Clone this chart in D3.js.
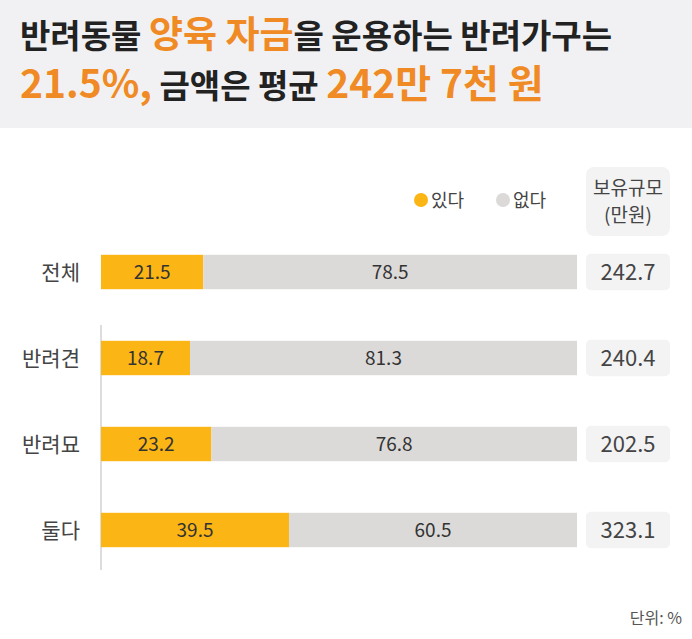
<!DOCTYPE html>
<html><head><meta charset="utf-8">
<script src="https://cdn.jsdelivr.net/npm/d3@7"></script>
<style>body{margin:0;background:#fff;font-family:"Noto Sans CJK KR","Noto Sans",sans-serif}</style>
</head><body><div id="chart"></div>
<script>
const categories = ['전체', '반려견', '반려묘', '둘다']
const yesValues = [21.5, 18.7, 23.2, 39.5]
const noValues = [78.5, 81.3, 76.8, 60.5]
const holdings = ['242.7', '240.4', '202.5', '323.1']

const W = 692, H = 639
const svg = d3.select('#chart').append('svg').attr('width', W).attr('height', H)
const font = '"Noto Sans CJK KR", sans-serif'

// header
svg.append('rect').attr('width', W).attr('height', 128).attr('fill', '#f1f1f3')
const t1 = svg.append('text').attr('x', 20).attr('y', 48).attr('font-size', 33).attr('font-weight', 700).attr('fill', '#222').attr('font-family', font)
t1.append('tspan').text('반려동물 ')
t1.append('tspan').attr('fill', '#f08a24').attr('font-size', 37).text('양육 자금')
t1.append('tspan').text('을 운용하는 반려가구는')
const t2 = svg.append('text').attr('x', 20).attr('y', 98).attr('font-size', 33).attr('font-weight', 700).attr('fill', '#222').attr('font-family', font)
t2.append('tspan').attr('fill', '#f08a24').attr('font-size', 39).text('21.5%,')
t2.append('tspan').text(' 금액은 평균 ')
t2.append('tspan').attr('fill', '#f08a24').attr('font-size', 39).text('242만 7천 원')

const x = d3.scaleLinear().domain([0, 100]).range([101, 577])
const y = d3.scaleBand().domain(categories).range([229, 573]).paddingInner(0.6).paddingOuter(0.3)

// axis line
svg.append('line').attr('x1', 101).attr('x2', 101).attr('y1', 325).attr('y2', 570).attr('stroke', '#bbb')

const rows = svg.selectAll('.row').data(categories).join('g').attr('class', 'row')
rows.append('text').attr('x', 80).attr('y', d => y(d) + y.bandwidth() / 2 + 8)
  .attr('text-anchor', 'end').attr('font-size', 21).attr('fill', '#444').text(d => d)
rows.append('rect').attr('x', x(0)).attr('y', d => y(d))
  .attr('width', (d, i) => x(yesValues[i]) - x(0)).attr('height', y.bandwidth()).attr('fill', '#fbb514')
rows.append('rect').attr('x', (d, i) => x(yesValues[i])).attr('y', d => y(d))
  .attr('width', (d, i) => x(100) - x(yesValues[i])).attr('height', y.bandwidth()).attr('fill', '#dcdad8')
rows.append('text').attr('x', (d, i) => x(yesValues[i] / 2)).attr('y', d => y(d) + y.bandwidth() / 2 + 7)
  .attr('text-anchor', 'middle').attr('font-size', 19).attr('fill', '#333').text((d, i) => yesValues[i])
rows.append('text').attr('x', (d, i) => x(yesValues[i] + noValues[i] / 2)).attr('y', d => y(d) + y.bandwidth() / 2 + 7)
  .attr('text-anchor', 'middle').attr('font-size', 19).attr('fill', '#333').text((d, i) => noValues[i])
rows.append('rect').attr('x', 586).attr('y', d => y(d) - 1).attr('width', 84).attr('height', y.bandwidth() + 2)
  .attr('rx', 5).attr('fill', '#f3f3f4')
rows.append('text').attr('x', 628).attr('y', d => y(d) + y.bandwidth() / 2 + 8)
  .attr('text-anchor', 'middle').attr('font-size', 22).attr('fill', '#444').text((d, i) => holdings[i])

// holdings header
svg.append('rect').attr('x', 586).attr('y', 167).attr('width', 84).attr('height', 69).attr('rx', 8).attr('fill', '#f3f3f4')
svg.append('text').attr('x', 628).attr('y', 195).attr('text-anchor', 'middle').attr('font-size', 19).attr('fill', '#444').text('보유규모')
svg.append('text').attr('x', 628).attr('y', 222).attr('text-anchor', 'middle').attr('font-size', 19).attr('fill', '#444').text('(만원)')

// legend
const legend = [['있다', '#fbb514', 421], ['없다', '#dcdad8', 503]]
legend.forEach(([label, c, lx]) => {
  svg.append('circle').attr('cx', lx).attr('cy', 200).attr('r', 7).attr('fill', c)
  svg.append('text').attr('x', lx + 10).attr('y', 207).attr('font-size', 18).attr('fill', '#444').text(label)
})

svg.append('text').attr('x', 682).attr('y', 624).attr('text-anchor', 'end').attr('font-size', 16).attr('fill', '#555').text('단위: %')
</script></body></html>
